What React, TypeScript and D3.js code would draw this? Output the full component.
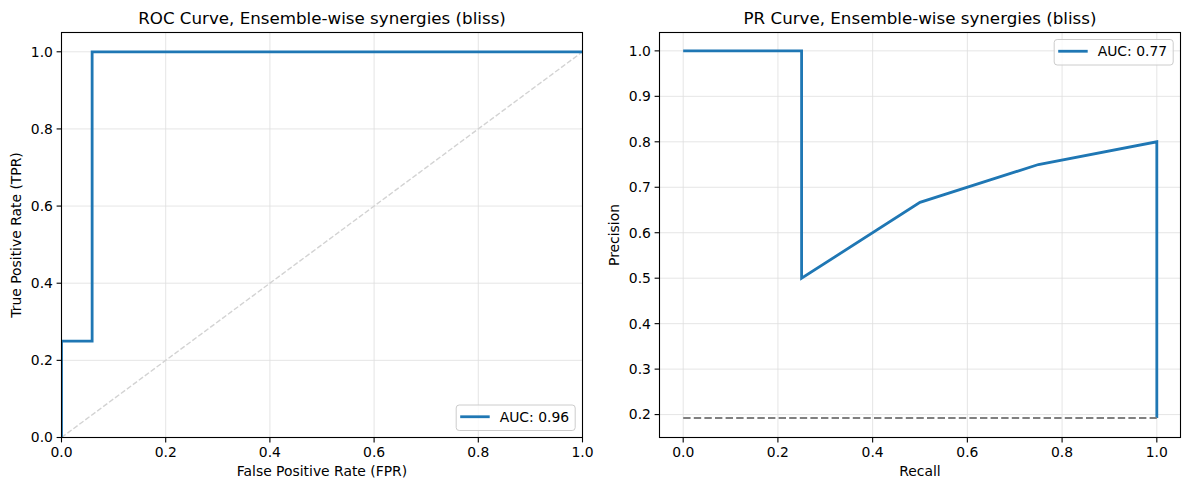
import { line, scaleLinear } from 'd3';

// ROC + PR curves for the ensemble-wise synergies (bliss), matplotlib look.

const rocFpr = [0, 0, 0.0588, 0.0588, 1];
const rocTpr = [0, 0.25, 0.25, 1, 1];
const rocAuc = 'AUC: 0.96';

const prRecall = [1, 1, 0.75, 0.5, 0.25, 0.25, 0];
const prPrecision = [0.1923, 0.8, 0.75, 0.6667, 0.5, 1, 1];
const prBaseline = 0.1923;
const prAuc = 'AUC: 0.77';

const rocTicks = [0, 0.2, 0.4, 0.6, 0.8, 1.0];
const prXTicks = [0, 0.2, 0.4, 0.6, 0.8, 1.0];
const prYTicks = [0.2, 0.3, 0.4, 0.5, 0.6, 0.7, 0.8, 0.9, 1.0];

const BLUE = '#1f77b4';
const FONT = "'DejaVu Sans', sans-serif";
const TICK = 13.9;

type Pt = [number, number];

function Panel({
  id,
  left,
  right,
  top,
  bottom,
  xDomain,
  yDomain,
  xTicks,
  yTicks,
  title,
  xLabel,
  yLabel,
  yLabelX,
  children,
  legend,
  legendPos,
}: {
  id: string;
  left: number;
  right: number;
  top: number;
  bottom: number;
  xDomain: [number, number];
  yDomain: [number, number];
  xTicks: number[];
  yTicks: number[];
  title: string;
  xLabel: string;
  yLabel: string;
  yLabelX: number;
  children: (x: (v: number) => number, y: (v: number) => number) => React.ReactNode;
  legend: string;
  legendPos: 'lower right' | 'upper right';
}) {
  const x = scaleLinear().domain(xDomain).range([left, right]);
  const y = scaleLinear().domain(yDomain).range([bottom, top]);
  const lw = 119;
  const lh = 25.5;
  const lx = right - 7.3 - lw;
  const ly = legendPos === 'lower right' ? bottom - 7 - lh : top + 7;
  return (
    <g>
      <defs>
        <clipPath id={id}>
          <rect x={left} y={top} width={right - left} height={bottom - top} />
        </clipPath>
      </defs>
      {xTicks.map((t) => (
        <line key={'gx' + t} x1={x(t)} x2={x(t)} y1={top} y2={bottom} stroke="#dedede" strokeWidth={0.8} />
      ))}
      {yTicks.map((t) => (
        <line key={'gy' + t} x1={left} x2={right} y1={y(t)} y2={y(t)} stroke="#dedede" strokeWidth={0.8} />
      ))}
      <g clipPath={`url(#${id})`}>{children(x, y)}</g>
      <rect x={left} y={top} width={right - left} height={bottom - top} fill="none" stroke="#000" strokeWidth={1.1} />
      {xTicks.map((t) => (
        <g key={'tx' + t}>
          <line x1={x(t)} x2={x(t)} y1={bottom} y2={bottom + 4.9} stroke="#000" strokeWidth={1.1} />
          <text x={x(t)} y={bottom + 8.6} dominantBaseline="hanging" textAnchor="middle" fontSize={TICK} fontFamily={FONT}>
            {t.toFixed(1)}
          </text>
        </g>
      ))}
      {yTicks.map((t) => (
        <g key={'ty' + t}>
          <line x1={left - 4.9} x2={left} y1={y(t)} y2={y(t)} stroke="#000" strokeWidth={1.1} />
          <text x={left - 8.6} y={y(t)} dy="0.35em" textAnchor="end" fontSize={TICK} fontFamily={FONT}>
            {t.toFixed(1)}
          </text>
        </g>
      ))}
      <text x={(left + right) / 2} y={23.5} textAnchor="middle" fontSize={16.7} fontFamily={FONT}>
        {title}
      </text>
      <text x={(left + right) / 2} y={476} textAnchor="middle" fontSize={TICK} fontFamily={FONT}>
        {xLabel}
      </text>
      <text
        transform={`translate(${yLabelX},${(top + bottom) / 2}) rotate(-90)`}
        textAnchor="middle"
        fontSize={TICK}
        fontFamily={FONT}
      >
        {yLabel}
      </text>
      <rect x={lx} y={ly} width={lw} height={lh} rx={3} fill="#fff" fillOpacity={0.8} stroke="#cccccc" strokeWidth={1} />
      <line x1={lx + 4} x2={lx + 33.5} y1={ly + lh / 2 - 1} y2={ly + lh / 2 - 1} stroke={BLUE} strokeWidth={2.8} />
      <text x={lx + 43.5} y={ly + lh / 2 - 1} dy="0.35em" fontSize={TICK} fontFamily={FONT}>
        {legend}
      </text>
    </g>
  );
}

export default function App() {
  const toPts = (xs: number[], ys: number[]): Pt[] => xs.map((v, i) => [v, ys[i]]);
  return (
    <div style={{ position: 'absolute', left: 0, top: 0 }}>
      <svg width={1189} height={490} viewBox="0 0 1189 490" style={{ display: 'block', background: '#fff' }}>
        <rect width={1189} height={490} fill="#fff" />
        <Panel
          id="clip-roc"
          left={61.5}
          right={582.5}
          top={32.5}
          bottom={437.5}
          xDomain={[0, 1]}
          yDomain={[0, 1.05]}
          xTicks={rocTicks}
          yTicks={rocTicks}
          title="ROC Curve, Ensemble-wise synergies (bliss)"
          xLabel="False Positive Rate (FPR)"
          yLabel="True Positive Rate (TPR)"
          yLabelX={21}
          legend={rocAuc}
          legendPos="lower right"
        >
          {(x, y) => {
            const ln = line<Pt>().x((d) => x(d[0])).y((d) => y(d[1]));
            return (
              <>
                <path d={ln([[0, 0], [1, 1]]) ?? undefined} fill="none" stroke="lightgray" strokeWidth={1.4} strokeDasharray="5.2,2.2" />
                <path d={ln(toPts(rocFpr, rocTpr)) ?? undefined} fill="none" stroke={BLUE} strokeWidth={2.8} />
              </>
            );
          }}
        </Panel>
        <Panel
          id="clip-pr"
          left={659.5}
          right={1180.5}
          top={32.5}
          bottom={437.5}
          xDomain={[-0.05, 1.05]}
          yDomain={[0.1496, 1.0404]}
          xTicks={prXTicks}
          yTicks={prYTicks}
          title="PR Curve, Ensemble-wise synergies (bliss)"
          xLabel="Recall"
          yLabel="Precision"
          yLabelX={619}
          legend={prAuc}
          legendPos="upper right"
        >
          {(x, y) => {
            const ln = line<Pt>().x((d) => x(d[0])).y((d) => y(d[1]));
            return (
              <>
                <path d={ln(toPts(prRecall, prPrecision)) ?? undefined} fill="none" stroke={BLUE} strokeWidth={2.8} />
                <path d={ln([[0, prBaseline], [1, prBaseline]]) ?? undefined} fill="none" stroke="gray" strokeWidth={2} strokeDasharray="7.4,3.2" />
              </>
            );
          }}
        </Panel>
      </svg>
    </div>
  );
}
